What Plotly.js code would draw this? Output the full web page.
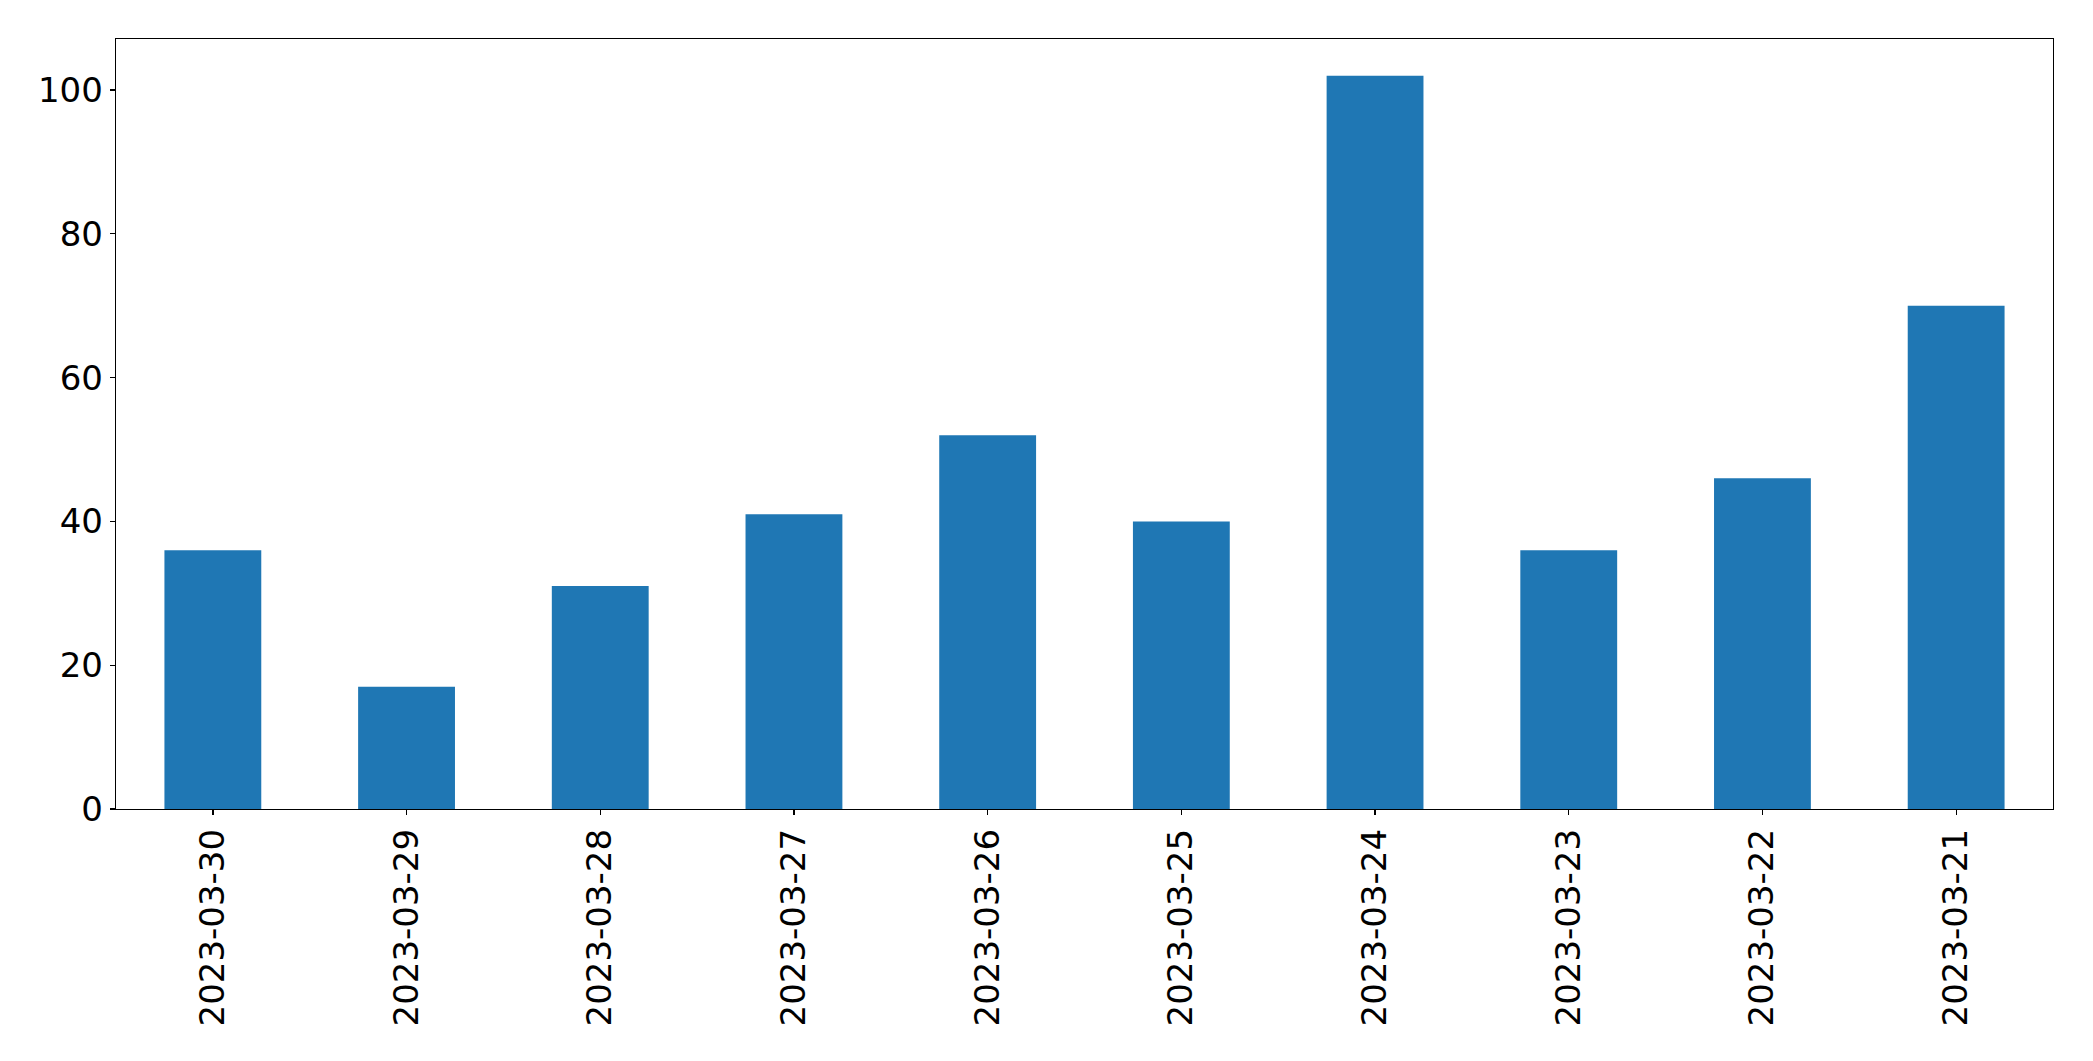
<!DOCTYPE html>
<html>
<head>
<meta charset="utf-8">
<script src="https://cdn.plot.ly/plotly-3.0.1.min.js"></script>
<style>
  html, body { margin: 0; padding: 0; background: #fff; }
  #chart { width: 2093px; height: 1061px; }
</style>
</head>
<body>
<div id="chart"></div>
<script>
// daily counts, newest first (as in the original)
var dates = ['2023-03-30', '2023-03-29', '2023-03-28', '2023-03-27', '2023-03-26',
             '2023-03-25', '2023-03-24', '2023-03-23', '2023-03-22', '2023-03-21'];
var counts = [36, 17, 31, 41, 52, 40, 102, 36, 46, 70];
var yTicks = [0, 20, 40, 60, 80, 100];

var tickFont = { family: 'DejaVu Sans', size: 34, color: '#000' };

var data = [
    {
        type: 'bar',
        x: dates,
        y: counts,
        width: 0.5,
        marker: { color: '#1f77b4', line: { width: 0 } },
        hoverinfo: 'x+y'
    }
];

var layout = {
    width: 2093,
    height: 1061,
    margin: { l: 116, r: 40, t: 39, b: 252 },
    paper_bgcolor: '#fff',
    plot_bgcolor: '#fff',
    showlegend: false,
    xaxis: {
        type: 'category',
        range: [-0.5, 9.5],
        tickangle: -90,
        tickfont: tickFont,
        ticks: 'outside',
        ticklen: 5,
        tickwidth: 1.3,
        tickcolor: '#000',
        showgrid: false,
        zeroline: false,
        showline: true,
        linecolor: '#000',
        linewidth: 1.3,
        mirror: true
    },
    yaxis: {
        range: [0, 107.1],
        tickvals: yTicks,
        ticktext: yTicks.map(String),
        tickfont: tickFont,
        ticks: 'outside',
        ticklen: 5,
        tickwidth: 1.3,
        tickcolor: '#000',
        showgrid: false,
        zeroline: false,
        showline: true,
        linecolor: '#000',
        linewidth: 1.3,
        mirror: true
    }
};

Plotly.newPlot('chart', data, layout, { staticPlot: true });
</script>
</body>
</html>
